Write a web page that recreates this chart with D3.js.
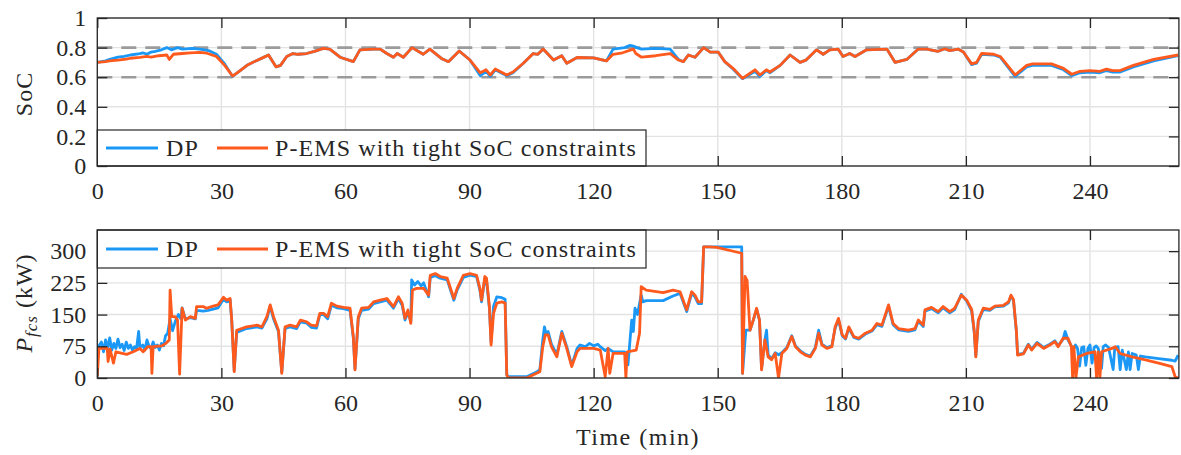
<!DOCTYPE html>
<html>
<head>
<meta charset="utf-8">
<script src="https://cdn.jsdelivr.net/npm/d3@7"></script>
<style>
body { margin: 0; background: #fff; }
</style>
</head>
<body>
<div id="main"></div>
<script>
// ---- data (time in min) ----
var timeTicks = [0, 30, 60, 90, 120, 150, 180, 210, 240];
var socTicks = [0, 0.2, 0.4, 0.6, 0.8, 1];
var pTicks = [0, 75, 150, 225, 300];
var socLimits = [0.6, 0.8];
var seriesNames = ["DP", "P-EMS with tight SoC constraints"];

var socPems = [[0,0.70],[2,0.705],[3,0.71],[5,0.715],[7,0.722],[8,0.728],[10.3,0.734],[12,0.74],[13,0.735],[14.9,0.745],[16.8,0.75],[17.4,0.72],[18.4,0.755],[20.6,0.76],[22.5,0.765],[24.8,0.768],[26.5,0.762],[28.8,0.74],[30.8,0.68],[32.7,0.608],[34.3,0.64],[36.2,0.68],[38.3,0.71],[40.2,0.734],[41.4,0.75],[43.2,0.67],[44.3,0.68],[45.8,0.74],[47.3,0.76],[48.5,0.755],[50.6,0.76],[52.5,0.775],[54.6,0.795],[56.2,0.79],[58.7,0.735],[61.9,0.705],[63.5,0.785],[66.7,0.79],[68.4,0.79],[70.0,0.76],[71.6,0.735],[72.5,0.76],[74.0,0.735],[76.1,0.80],[78.8,0.755],[80.4,0.79],[83.2,0.727],[84.9,0.705],[87.5,0.777],[90.1,0.716],[92.6,0.63],[94.0,0.65],[95.0,0.615],[96.2,0.655],[99.0,0.615],[100.5,0.635],[103.0,0.694],[105.4,0.76],[106.5,0.755],[107.8,0.79],[110.3,0.716],[112.3,0.745],[113.5,0.694],[116.0,0.733],[120.0,0.73],[123.1,0.71],[124.7,0.755],[127,0.765],[129.6,0.79],[130.2,0.76],[131.6,0.735],[135,0.745],[138.5,0.76],[140.5,0.716],[141.7,0.705],[142.9,0.75],[144.5,0.735],[146.6,0.80],[148.2,0.77],[150.1,0.77],[151.7,0.705],[153.7,0.66],[156.0,0.592],[159.0,0.65],[160.2,0.615],[161.8,0.65],[162.6,0.635],[165.1,0.68],[167.5,0.75],[169.9,0.70],[171.3,0.715],[173.9,0.785],[175.5,0.755],[177.1,0.785],[179.1,0.79],[180.3,0.74],[181.9,0.76],[183.2,0.74],[186.0,0.785],[190.9,0.79],[192.9,0.70],[195.7,0.72],[198.5,0.79],[200.5,0.79],[203.3,0.775],[204.9,0.792],[206.1,0.78],[208.1,0.79],[209.4,0.77],[211.4,0.69],[212.6,0.70],[213.8,0.76],[216.7,0.755],[218.3,0.74],[221.9,0.615],[224.7,0.68],[226.1,0.69],[230.7,0.69],[233.6,0.66],[235.6,0.62],[237.6,0.64],[240,0.645],[242.4,0.64],[244.0,0.655],[245.5,0.645],[247.3,0.645],[250.5,0.68],[255.4,0.72],[261.3,0.75]];

var socDp = [[0,0.70],[2,0.71],[3,0.72],[5,0.735],[6.5,0.74],[8,0.75],[10.3,0.76],[11,0.765],[12,0.755],[13,0.77],[14,0.775],[15.5,0.785],[16.8,0.80],[17.9,0.785],[19.4,0.80],[20.6,0.79],[22.9,0.795],[24.8,0.79],[26.9,0.78],[28.8,0.755],[30.8,0.69],[32.7,0.605],[34.3,0.64],[36.2,0.68],[38.3,0.71],[40.2,0.734],[41.4,0.75],[43.2,0.67],[44.3,0.68],[45.8,0.74],[47.3,0.76],[48.5,0.755],[50.6,0.76],[52.5,0.775],[54.6,0.795],[56.2,0.79],[58.7,0.735],[61.9,0.705],[63.5,0.785],[66.7,0.79],[68.4,0.79],[70.0,0.76],[71.6,0.735],[72.5,0.76],[74.0,0.735],[76.1,0.80],[78.8,0.755],[80.4,0.79],[83.2,0.727],[84.9,0.705],[87.5,0.777],[90.1,0.716],[92.6,0.61],[94.0,0.64],[95.0,0.605],[96.2,0.65],[99.0,0.61],[100.5,0.63],[103.0,0.694],[105.4,0.76],[106.5,0.755],[107.8,0.79],[110.3,0.716],[112.3,0.745],[113.5,0.694],[116.0,0.733],[120.0,0.73],[123.1,0.71],[124.7,0.79],[127.5,0.80],[128.8,0.815],[129.6,0.81],[130.4,0.80],[131.6,0.79],[135,0.795],[138.5,0.79],[140.5,0.72],[141.7,0.705],[142.9,0.75],[144.5,0.735],[146.6,0.80],[148.2,0.77],[150.1,0.77],[151.7,0.705],[153.7,0.655],[156.0,0.59],[159.0,0.64],[160.2,0.605],[161.8,0.645],[162.6,0.63],[165.1,0.68],[167.5,0.75],[169.9,0.70],[171.3,0.715],[173.9,0.785],[175.5,0.755],[177.1,0.785],[179.1,0.79],[180.3,0.74],[181.9,0.76],[183.2,0.74],[186.0,0.785],[190.9,0.79],[192.9,0.70],[195.7,0.72],[198.5,0.79],[200.5,0.79],[203.3,0.775],[204.9,0.792],[206.1,0.78],[208.1,0.79],[209.4,0.77],[211.4,0.685],[212.6,0.695],[213.8,0.755],[216.7,0.75],[218.3,0.735],[221.9,0.605],[224.7,0.67],[226.1,0.68],[230.7,0.68],[233.6,0.65],[235.6,0.61],[237.6,0.63],[240,0.635],[242.4,0.63],[244.0,0.645],[245.5,0.635],[247.3,0.635],[250.5,0.67],[255.4,0.71],[261.3,0.745]];

var pPems = [[0,5],[0.4,70],[2.4,70],[2.6,39],[3.1,68],[3.9,35],[4.5,62],[7.1,56],[8.7,62],[10.3,70],[11.1,62],[12.2,74],[13.0,74],[13.2,11],[13.5,74],[15.6,76],[16.6,82],[17.4,90],[17.6,208],[18.0,145],[18.8,145],[19.4,137],[19.9,9],[20.5,165],[21.3,137],[22.5,145],[23.7,141],[24.0,169],[25.6,169],[26.4,165],[28.0,170],[29.2,173],[30.5,191],[31.3,184],[32.1,188],[32.5,137],[33.1,15],[33.7,113],[36.1,121],[38.6,125],[39.8,121],[41.0,145],[41.8,173],[42.6,145],[43.8,113],[44.6,11],[45.4,121],[46.6,125],[48.2,121],[49.1,137],[50.6,133],[51.7,125],[53.0,123],[53.8,153],[54.7,153],[55.7,145],[56.6,177],[57.9,170],[59.5,167],[61.1,165],[61.9,98],[62.3,19],[63.1,145],[63.9,165],[65.6,167],[66.8,180],[68.4,184],[70.0,188],[71.6,169],[72.8,192],[73.7,177],[74.4,141],[75.1,161],[75.8,129],[76.2,208],[77.2,212],[78.9,212],[80.1,196],[80.5,243],[81.7,247],[82.9,240],[84.6,236],[86.2,188],[87.0,212],[88.5,243],[90.1,247],[91.7,243],[92.5,212],[92.9,184],[93.7,240],[94.1,236],[94.8,169],[95.2,78],[95.8,153],[96.6,177],[97.8,180],[98.6,177],[99.0,7],[99.4,0],[103.8,0],[106.2,11],[107.0,15],[107.7,74],[108.3,102],[109.0,102],[109.8,74],[111.1,50],[112.3,106],[113.5,70],[114.7,27],[116.0,62],[116.7,70],[120.0,70],[121.6,66],[122.8,3],[123.5,70],[123.9,11],[124.7,58],[127.5,58],[127.8,0],[128.1,62],[130.3,66],[131.1,106],[131.5,216],[132.7,208],[136.8,202],[139.2,208],[140.9,204],[142.5,161],[143.7,204],[144.5,196],[145.3,180],[146.1,180],[146.6,310],[147.8,310],[149.8,309],[155.8,295],[156.0,11],[156.6,240],[157.1,231],[157.8,113],[158.6,137],[159.4,165],[160.1,137],[160.6,19],[161.4,90],[162.2,50],[163.0,43],[163.9,58],[164.7,0],[165.5,58],[166.7,70],[167.9,98],[168.8,74],[170.0,62],[171.2,54],[172.4,50],[173.6,70],[174.4,106],[175.2,78],[176.4,70],[177.6,74],[178.4,121],[179.2,141],[180.1,102],[180.9,94],[181.7,121],[182.9,98],[184.1,94],[185.7,106],[187.3,113],[188.5,129],[189.7,125],[191.3,173],[192.4,129],[193.7,117],[196.1,113],[197.7,117],[198.5,137],[199.7,125],[200.1,161],[201.7,167],[203.3,157],[204.5,169],[206.1,157],[207.3,165],[208.9,196],[210.2,184],[211.4,162],[212.0,113],[212.4,50],[213.0,137],[214.2,165],[215.8,162],[217.0,170],[219.1,172],[220.3,180],[220.9,196],[221.5,186],[222.2,113],[222.5,54],[223.9,57],[225.1,78],[225.9,66],[227.2,82],[228.8,70],[230.3,78],[231.5,86],[232.3,74],[233.5,94],[234.7,94],[235.5,74],[235.8,0],[236.1,74],[236.6,0],[237.2,50],[239.2,58],[241.2,62],[241.6,0],[242.0,62],[242.4,0],[242.8,62],[245.3,70],[246.1,74],[247.3,58],[250.2,50],[253.4,43],[256.6,35],[259.8,27],[260.6,3],[261.3,0]];

var pDp = [[0,40],[0.3,75],[1,85],[1.5,62],[2,90],[2.5,70],[3,95],[3.5,66],[4,82],[4.5,70],[5,92],[5.5,72],[6,80],[6.5,65],[7,85],[7.5,70],[8,78],[8.5,66],[9,74],[9.5,70],[10,110],[10.3,72],[11,78],[11.5,66],[12,90],[12.5,75],[13,70],[13.5,85],[14,72],[14.5,78],[15,66],[15.5,82],[16,76],[16.5,100],[17,105],[17.6,140],[18.2,112],[18.9,135],[19.6,150],[20.2,140],[20.5,166],[21.3,140],[22.5,143],[23.7,140],[24.0,160],[25.6,158],[26.8,160],[28.0,163],[29.2,166],[30.5,186],[31.3,180],[32.1,186],[32.5,137],[33.1,18],[33.7,108],[36.1,117],[38.6,121],[39.8,118],[41.0,140],[41.8,170],[42.6,140],[43.8,110],[44.6,14],[45.4,117],[46.6,121],[48.2,117],[49.1,133],[50.6,130],[51.7,120],[53.0,118],[53.8,150],[54.7,150],[55.7,140],[56.6,172],[57.9,166],[59.5,164],[61.1,160],[61.9,95],[62.3,22],[63.1,140],[63.9,160],[65.6,163],[66.8,176],[68.4,180],[70.0,184],[71.6,165],[72.8,188],[73.7,172],[74.4,137],[75.1,155],[75.8,135],[76.0,232],[76.7,220],[77.5,228],[78.3,218],[78.9,225],[80.1,192],[80.5,238],[81.7,242],[82.9,236],[84.6,232],[86.2,184],[87.0,208],[88.5,238],[90.1,243],[91.7,240],[92.5,208],[92.9,180],[93.7,236],[94.1,230],[94.8,165],[95.2,85],[95.8,170],[96.6,192],[97.8,190],[98.6,186],[99.0,8],[99.4,3],[103.8,3],[106.2,14],[107.0,20],[107.7,90],[108.1,121],[108.5,105],[109.0,110],[109.8,80],[111.1,55],[112.3,110],[113.5,74],[114.7,30],[116.0,70],[116.7,78],[118.0,74],[119.0,82],[120.0,76],[121.0,80],[121.6,74],[122.8,65],[123.5,70],[124.7,62],[127.5,62],[128.3,31],[128.8,90],[129.2,137],[129.6,110],[130.0,165],[130.6,150],[131.5,196],[131.9,180],[132.7,183],[136.8,183],[139.2,194],[140.9,200],[142.5,157],[143.7,200],[144.5,192],[145.3,176],[146.1,176],[146.6,310],[155.8,310],[156.0,11],[156.8,113],[157.8,113],[158.6,137],[159.4,163],[160.1,137],[160.6,22],[161.4,90],[161.8,113],[162.2,55],[163.0,45],[163.9,60],[164.7,55],[165.5,60],[166.7,72],[167.9,100],[168.8,76],[170.0,64],[171.2,56],[172.4,52],[173.6,72],[174.4,113],[175.2,80],[176.4,72],[177.6,76],[178.4,118],[179.2,138],[180.1,100],[180.9,92],[181.7,118],[182.9,96],[184.1,92],[185.7,104],[187.3,111],[188.5,126],[189.7,122],[191.3,170],[192.4,126],[193.7,114],[196.1,110],[197.7,114],[198.5,134],[199.7,122],[200.1,158],[201.7,164],[203.3,154],[204.5,166],[206.1,154],[207.3,162],[208.9,198],[210.2,182],[211.4,158],[212.0,110],[212.4,52],[213.0,134],[214.2,162],[215.8,160],[217.0,168],[219.1,170],[220.3,178],[220.9,194],[221.5,184],[222.2,110],[222.5,56],[223.9,58],[225.1,80],[225.9,68],[227.2,84],[228.8,72],[230.3,80],[231.5,88],[232.3,76],[233.5,92],[234.0,110],[234.7,90],[235.5,76],[236.0,66],[236.5,78],[237.0,70],[237.5,28],[238.0,72],[238.5,74],[239.0,30],[239.5,70],[240.0,78],[240.5,35],[241.0,72],[241.5,76],[242.0,70],[242.8,23],[243.2,74],[243.8,78],[244.5,72],[245.6,20],[246.0,72],[246.8,74],[247.3,20],[247.8,66],[248.8,20],[249.3,62],[249.7,20],[250.2,58],[251.2,54],[251.7,20],[252.2,52],[253.4,50],[256.6,46],[259.8,42],[260.6,40],[261.3,54]];

var blue = "#1b98f5",
    orange = "#ff5a1e",
    axisColor = "#262626",
    gridColor = "#e3e3e3";

var fontName = "Liberation Serif";

var width = 1181,
    height = 455;

var svg = d3.select("#main").append("svg")
    .attr("width", width)
    .attr("height", height)
    .attr("font-family", fontName);

var x = d3.scaleLinear().domain([0, 261.5]).range([97.3, 1178.9]);
var ySoc = d3.scaleLinear().domain([0, 1]).range([166, 18]);
var yP = d3.scaleLinear().domain([0, 350]).range([378, 230]);

function drawPanel(id, y, yTicks, series, extra, legendBox) {
    var left = x.range()[0], right = x.range()[1];
    var bot = y.range()[0], top = y.range()[1];
    var g = svg.append("g").attr("class", id);

    // grid
    g.append("g").selectAll("line").data(timeTicks).enter().append("line")
        .attr("x1", function(d){ return x(d); }).attr("x2", function(d){ return x(d); })
        .attr("y1", top).attr("y2", bot)
        .attr("stroke", gridColor).attr("stroke-width", 1.4);
    g.append("g").selectAll("line").data(yTicks).enter().append("line")
        .attr("x1", left).attr("x2", right)
        .attr("y1", function(d){ return y(d); }).attr("y2", function(d){ return y(d); })
        .attr("stroke", gridColor).attr("stroke-width", 1.4);

    if (extra) extra(g);

    g.append("clipPath").attr("id", "clip-" + id)
        .append("rect").attr("x", left).attr("y", top)
        .attr("width", right - left).attr("height", bot - top);

    var line = d3.line()
        .x(function(d){ return x(d[0]); })
        .y(function(d){ return y(d[1]); });

    g.append("g").attr("clip-path", "url(#clip-" + id + ")")
        .selectAll("path").data(series).enter().append("path")
        .attr("d", function(d){ return line(d.values); })
        .attr("fill", "none")
        .attr("stroke", function(d){ return d.color; })
        .attr("stroke-width", 2.8)
        .attr("stroke-linejoin", "round");

    // axes, ticks inside, mirrored on top / right
    var fmt = function(d){ return String(d); };
    var ax = g.append("g").attr("transform", "translate(0," + bot + ")")
        .call(d3.axisBottom(x).tickValues(timeTicks).tickFormat(fmt).tickSizeInner(-10).tickSizeOuter(0).tickPadding(16));
    var axT = g.append("g").attr("transform", "translate(0," + top + ")")
        .call(d3.axisTop(x).tickValues(timeTicks).tickFormat("").tickSizeInner(-10).tickSizeOuter(0));
    var ayl = g.append("g").attr("transform", "translate(" + left + ",0)")
        .call(d3.axisLeft(y).tickValues(yTicks).tickFormat(fmt).tickSizeInner(-10).tickSizeOuter(0).tickPadding(11));
    var ayr = g.append("g").attr("transform", "translate(" + right + ",0)")
        .call(d3.axisRight(y).tickValues(yTicks).tickFormat("").tickSizeInner(-10).tickSizeOuter(0));
    [ax, axT, ayl, ayr].forEach(function(a){
        a.attr("font-family", fontName).attr("font-size", 24);
        a.select(".domain").remove();
        a.selectAll(".tick line").attr("stroke", axisColor).attr("stroke-width", 1.3);
        a.selectAll(".tick text").attr("fill", axisColor);
    });

    // legend
    var lg = g.append("g");
    lg.append("rect").attr("x", left).attr("y", legendBox[0])
        .attr("width", 646 - left).attr("height", legendBox[1] - legendBox[0])
        .attr("fill", "#fff").attr("stroke", axisColor).attr("stroke-width", 1.2);
    var ly = (legendBox[0] + legendBox[1]) / 2;
    var items = [{x0: 106, x1: 158, tx: 166}, {x0: 217, x1: 268, tx: 275}];
    series.forEach(function(s, i){
        lg.append("line").attr("x1", items[i].x0).attr("x2", items[i].x1)
            .attr("y1", ly).attr("y2", ly)
            .attr("stroke", s.color).attr("stroke-width", 2.8);
        lg.append("text").attr("x", items[i].tx).attr("y", ly + 7.5)
            .attr("font-family", fontName).attr("font-size", 24)
            .attr("fill", axisColor).attr("letter-spacing", 1.1)
            .text(s.name);
    });

    // box
    g.append("rect").attr("x", left).attr("y", top)
        .attr("width", right - left).attr("height", bot - top)
        .attr("fill", "none").attr("stroke", axisColor).attr("stroke-width", 1.3);
}

drawPanel("soc", ySoc, socTicks,
    [{name: seriesNames[0], values: socDp, color: blue},
     {name: seriesNames[1], values: socPems, color: orange}],
    function(g){
        g.append("g").selectAll("line").data(socLimits).enter().append("line")
            .attr("x1", x.range()[0]).attr("x2", x.range()[1])
            .attr("y1", function(d){ return ySoc(d); }).attr("y2", function(d){ return ySoc(d); })
            .attr("stroke", "#9b9b9b").attr("stroke-width", 2.6)
            .attr("stroke-dasharray", "15,9");
    },
    [130, 166]);

drawPanel("pfcs", yP, pTicks,
    [{name: seriesNames[0], values: pDp, color: blue},
     {name: seriesNames[1], values: pPems, color: orange}],
    null,
    [230, 268]);

// axis titles
svg.append("text")
    .attr("transform", "translate(32,94) rotate(-90)")
    .attr("text-anchor", "middle")
    .attr("font-family", fontName).attr("font-size", 24)
    .attr("fill", axisColor).attr("letter-spacing", 1)
    .text("SoC");

var pl = svg.append("text")
    .attr("transform", "translate(32,303) rotate(-90)")
    .attr("text-anchor", "middle")
    .attr("font-family", fontName).attr("font-size", 24)
    .attr("fill", axisColor).attr("letter-spacing", 1);
pl.append("tspan").attr("font-style", "italic").text("P");
pl.append("tspan").attr("font-style", "italic").attr("font-size", 17)
    .attr("dy", 5).text("fcs");
pl.append("tspan").attr("dy", -5).text(" (kW)");

svg.append("text")
    .attr("x", 638).attr("y", 445)
    .attr("text-anchor", "middle")
    .attr("font-family", fontName).attr("font-size", 24)
    .attr("fill", axisColor).attr("letter-spacing", 1.5)
    .text("Time (min)");
</script>
</body>
</html>
